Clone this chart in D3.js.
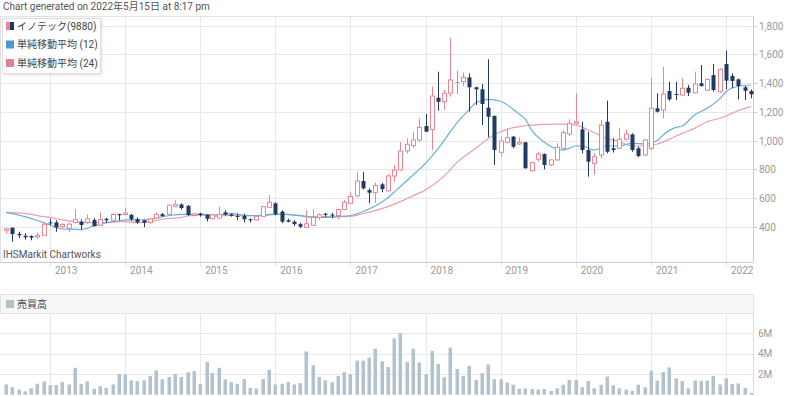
<!DOCTYPE html>
<html>
<head>
<meta charset="utf-8">
<script src="https://cdn.jsdelivr.net/npm/d3@7"></script>
<style>
  body { margin: 0; background: #fff; }
  svg { display: block; font-family: Roboto, "Noto Sans CJK JP", sans-serif; }
</style>
</head>
<body>
<div class="chart"></div>
<script>
// Step 0: data (monthly candles, June 2012 - May 2022)
//= ================================
var firstMonth = new Date(2012, 5, 1);

var open = [375, 393, 350, 337, 335, 328, 340, 430, 430, 400, 390, 430,
  435, 430, 447, 410, 455, 445, 488, 485, 482, 452, 445, 430,
  460, 487, 487, 540, 555, 545, 478, 492, 482, 455, 460, 500,
  485, 475, 475, 452, 447, 472, 535, 563, 505, 445, 435, 418,
  395, 410, 465, 490, 484, 478, 520, 563, 615, 718, 655, 637,
  695, 650, 753, 795, 928, 964, 1004, 1101, 1078, 1298, 1270, 1330,
  1408, 1410, 1440, 1371, 1357, 1229, 1171, 918, 988, 1027, 976, 988,
  790, 870, 906, 830, 865, 946, 1046, 1120, 1078, 934, 841, 900,
  1131, 946, 946, 1009, 1043, 946, 900, 946, 1225, 1213, 1345, 1324,
  1317, 1368, 1333, 1399, 1350, 1456, 1340, 1533, 1450, 1426, 1371, 1345];

var high = [390, 396, 365, 355, 340, 360, 425, 455, 445, 425, 425, 520,
  450, 485, 460, 500, 462, 495, 490, 530, 490, 465, 447, 462,
  500, 495, 555, 585, 562, 552, 495, 497, 487, 485, 540, 515,
  492, 492, 490, 457, 475, 545, 620, 570, 515, 455, 445, 428,
  515, 520, 493, 497, 497, 525, 585, 640, 783, 780, 667, 707,
  705, 767, 830, 990, 1015, 1062, 1155, 1185, 1375, 1480, 1352, 1716,
  1487, 1473, 1468, 1375, 1394, 1566, 1175, 1027, 1085, 1032, 1023, 990,
  848, 922, 910, 870, 981, 1073, 1148, 1329, 1131, 1062, 911, 1143,
  1278, 1016, 1085, 1078, 1050, 957, 1008, 1440, 1329, 1514, 1410, 1410,
  1433, 1387, 1480, 1526, 1433, 1533, 1503, 1626, 1468, 1433, 1380, 1357];

var low = [350, 296, 320, 310, 305, 313, 340, 410, 365, 390, 365, 425,
  380, 420, 400, 405, 425, 440, 445, 480, 440, 420, 397, 418,
  455, 470, 482, 535, 520, 475, 470, 470, 437, 452, 455, 478,
  470, 445, 430, 430, 443, 470, 535, 480, 425, 430, 405, 390,
  390, 405, 445, 470, 460, 450, 517, 560, 605, 660, 563, 567,
  640, 644, 713, 790, 910, 950, 990, 1060, 934, 1208, 1213, 1305,
  1324, 1380, 1201, 1248, 1108, 1023, 830, 888, 980, 946, 969, 805,
  785, 853, 800, 823, 860, 939, 1032, 1110, 911, 748, 760, 876,
  911, 916, 946, 1000, 922, 883, 892, 934, 1196, 1155, 1276, 1283,
  1312, 1310, 1329, 1375, 1345, 1340, 1333, 1357, 1364, 1287, 1283, 1294];

var close = [385, 349, 340, 326, 324, 340, 417, 425, 395, 415, 418, 450,
  412, 455, 405, 450, 445, 485, 480, 495, 452, 430, 427, 455,
  485, 475, 550, 555, 530, 482, 488, 482, 455, 482, 485, 484,
  475, 470, 452, 445, 472, 540, 570, 487, 435, 435, 418, 400,
  420, 465, 483, 482, 478, 520, 570, 610, 718, 667, 637, 686,
  662, 753, 795, 927, 974, 1004, 1092, 1062, 1310, 1270, 1330, 1422,
  1408, 1440, 1371, 1357, 1255, 1166, 934, 997, 1020, 957, 988, 807,
  848, 906, 830, 865, 953, 1055, 1120, 1131, 934, 853, 888, 1108,
  922, 934, 1009, 1046, 934, 892, 1004, 1225, 1201, 1324, 1287, 1317,
  1364, 1333, 1394, 1380, 1426, 1352, 1496, 1417, 1415, 1380, 1347, 1322];

// volume in millions of shares
var volume = [1.0, 0.73, 0.5, 0.33, 0.63, 1.07, 1.3, 0.93, 0.93, 1.23, 1.0, 2.63,
  1.07, 1.3, 0.57, 0.83, 0.67, 1.0, 2.0, 2.0, 1.4, 1.33, 1.4, 1.83,
  2.37, 1.5, 1.73, 2.03, 1.73, 2.2, 2.3, 1.07, 3.2, 2.13, 2.63, 1.5,
  1.23, 1.07, 1.53, 0.67, 0.6, 1.53, 2.43, 1.0, 1.07, 1.23, 1.0, 1.13,
  4.23, 2.87, 1.73, 1.4, 1.23, 1.83, 2.2, 2.0, 3.33, 3.33, 3.63, 4.5,
  3.27, 2.7, 5.5, 6.0, 3.2, 4.5, 3.15, 2.0, 4.26, 3.0, 1.7, 4.6,
  2.5, 1.84, 2.82, 1.44, 2.1, 2.95, 1.5, 1.5, 1.18, 0.98, 0.56, 0.62,
  0.56, 0.5, 0.56, 0.36, 0.62, 0.98, 1.44, 1.44, 0.72, 1.34, 0.62, 0.98,
  1.77, 0.92, 0.62, 0.5, 0.36, 0.98, 0.72, 2.33, 1.38, 2.23, 2.66, 1.6,
  1.34, 0.62, 1.38, 1.34, 1.38, 1.84, 1.0, 1.6, 1.05, 1.1, 0.66, 0.16];

// moving averages: [month index, value]
var sma12 = [[0, 500], [3, 470], [6, 428], [7, 412], [9, 384], [11, 382], [12, 380],
  [14, 405], [16, 428], [18, 440], [19, 447], [21, 447], [23, 452], [25, 470],
  [28, 486], [29, 486], [31, 486], [34, 481], [36, 493], [38, 481], [40, 477],
  [42, 486], [44, 488], [47, 477], [49, 465], [51, 465], [53, 470], [55, 478],
  [57, 504], [59, 544], [61, 600], [62, 640], [63, 680], [65, 760], [67, 841],
  [69, 940], [70, 1000], [72, 1120], [74, 1215], [75, 1262], [77, 1287],
  [79, 1274], [81, 1220], [82, 1185], [83, 1150], [84, 1073], [86, 990],
  [87, 960], [89, 934], [90, 946], [91, 962], [92, 962], [94, 934], [96, 962],
  [98, 962], [100, 981], [102, 975], [104, 1000], [105, 1039], [107, 1092],
  [108, 1101], [110, 1178], [112, 1225], [114, 1290], [115, 1340], [117, 1378],
  [119, 1387]];

var sma24 = [[0, 500], [3, 493], [6, 470], [7, 465], [9, 447], [11, 435], [12, 430],
  [14, 428], [16, 428], [18, 435], [19, 435], [21, 428], [23, 435], [25, 452],
  [28, 465], [29, 475], [31, 481], [34, 472], [36, 481], [38, 477], [40, 477],
  [42, 481], [44, 486], [47, 477], [49, 470], [51, 470], [53, 470], [55, 472],
  [57, 490], [59, 512], [61, 540], [63, 575], [65, 615], [67, 656], [70, 752],
  [72, 845], [75, 946], [78, 1040], [80, 1078], [83, 1103], [86, 1113],
  [88, 1115], [91, 1108], [93, 1075], [96, 1016], [98, 992], [100, 962],
  [102, 962], [104, 976], [106, 1010], [108, 1050], [110, 1085], [112, 1131],
  [114, 1155], [115, 1171], [117, 1208], [119, 1236]];

var priceTicks = [400, 600, 800, 1000, 1200, 1400, 1600, 1800];
var volumeTicks = [2, 4, 6];
var volumeTickLabels = ["2M", "4M", "6M"];
var years = [2013, 2014, 2015, 2016, 2017, 2018, 2019, 2020, 2021, 2022];

var legendNames = ["イノテック(9880)", "単純移動平均 (12)", "単純移動平均 (24)"];

// Step 1: set up the chart
//= ================================
var svgWidth = 800;
var svgHeight = 396;

var plotRight = 753;
var priceTop = 16;
var priceBottom = 262;
var volTop = 313;
var volBottom = 395;

var upColor = "#ec8592";
var downColor = "#203a63";
var smaBlue = "#6aafdc";
var smaPink = "#e9a0ad";
var gridColor = "#e8e8e8";

var svg = d3
  .select(".chart")
  .append("svg")
  .attr("width", svgWidth)
  .attr("height", svgHeight);

var months = d3.range(open.length).map(function(i) {
  return d3.timeMonth.offset(firstMonth, i);
});

var candles = months.map(function(m, i) {
  return { date: m, open: open[i], high: high[i], low: low[i], close: close[i], volume: volume[i] };
});

// scales
var x = d3.scaleTime()
  .domain([new Date(2013, 0, 1), new Date(2022, 0, 1)])
  .range([50, 726]);

var y = d3.scaleLinear().domain([400, 1800]).range([226.7, 25.7]);
var yVol = d3.scaleLinear().domain([0, 6]).range([394.7, 333.3]);

// title
svg.append("text")
  .attr("x", 3)
  .attr("y", 10)
  .attr("font-size", 10)
  .attr("fill", "#555")
  .text("Chart generated on 2022年5月15日 at 8:17 pm");

// price panel frame + grid
svg.append("rect")
  .attr("x", 0.5).attr("y", priceTop + 0.5)
  .attr("width", plotRight).attr("height", priceBottom - priceTop)
  .attr("fill", "none").attr("stroke", "#e2e2e2");

svg.append("g")
  .selectAll("line")
  .data(priceTicks)
  .enter()
  .append("line")
  .attr("x1", 0).attr("x2", plotRight)
  .attr("y1", function(d) { return Math.round(y(d)) + 0.5; })
  .attr("y2", function(d) { return Math.round(y(d)) + 0.5; })
  .attr("stroke", gridColor);

svg.append("g")
  .selectAll("line")
  .data(years)
  .enter()
  .append("line")
  .attr("x1", function(d) { return Math.round(x(new Date(d, 0, 1))) + 0.5; })
  .attr("x2", function(d) { return Math.round(x(new Date(d, 0, 1))) + 0.5; })
  .attr("y1", priceTop).attr("y2", priceBottom + 5)
  .attr("stroke", gridColor);

// right price axis
svg.append("line")
  .attr("x1", plotRight + 0.5).attr("x2", plotRight + 0.5)
  .attr("y1", priceTop).attr("y2", priceBottom)
  .attr("stroke", "#ccc");

var priceAxis = svg.append("g").selectAll("g").data(priceTicks).enter().append("g")
  .attr("transform", function(d) { return "translate(" + plotRight + "," + (Math.round(y(d)) + 0.5) + ")"; });
priceAxis.append("line").attr("x2", 4).attr("stroke", "#ccc");
priceAxis.append("text")
  .attr("x", 6).attr("dy", "0.35em")
  .attr("font-size", 10).attr("fill", "#999")
  .text(d3.format(","));

// bottom time axis
svg.append("line")
  .attr("x1", 0).attr("x2", plotRight)
  .attr("y1", priceBottom + 0.5).attr("y2", priceBottom + 0.5)
  .attr("stroke", "#ccc");

svg.append("g")
  .selectAll("text")
  .data(years)
  .enter()
  .append("text")
  .attr("x", function(d) { return x(new Date(d, 0, 1)) + 5; })
  .attr("y", 274)
  .attr("font-size", 10)
  .attr("fill", "#999")
  .text(function(d) { return d; });

// watermark
svg.append("text")
  .attr("x", 3).attr("y", 258)
  .attr("font-size", 10).attr("fill", "#555")
  .text("IHSMarkit Chartworks");

// moving averages
var smaLine = d3.line()
  .x(function(d) { return x(d3.timeMonth.offset(firstMonth, d[0])); })
  .y(function(d) { return y(d[1]); })
  .curve(d3.curveMonotoneX);

svg.append("path").datum(sma24)
  .attr("d", smaLine).attr("fill", "none")
  .attr("stroke", smaPink).attr("stroke-width", 1.2);
svg.append("path").datum(sma12)
  .attr("d", smaLine).attr("fill", "none")
  .attr("stroke", smaBlue).attr("stroke-width", 1.2);

// candles
function candleColor(d) {
  if (d.close === d.open) return "#9a9a9a";
  return d.close > d.open ? upColor : downColor;
}

var candle = svg.append("g").selectAll("g").data(candles).enter().append("g");

candle.append("line")
  .attr("x1", function(d) { return Math.round(x(d.date)) + 0.5; })
  .attr("x2", function(d) { return Math.round(x(d.date)) + 0.5; })
  .attr("y1", function(d) { return y(d.high); })
  .attr("y2", function(d) { return y(d.low); })
  .attr("stroke", candleColor);

candle.append("rect")
  .attr("x", function(d) { return Math.round(x(d.date)) - 1.5; })
  .attr("width", 4)
  .attr("y", function(d) { return y(Math.max(d.open, d.close)); })
  .attr("height", function(d) { return Math.max(1, Math.abs(y(d.open) - y(d.close))); })
  .attr("fill", function(d) { return d.close > d.open ? "#fff" : candleColor(d); })
  .attr("stroke", candleColor)
  .attr("stroke-width", function(d) { return d.close > d.open ? 1 : 0; });

// legend
var legend = svg.append("g").attr("transform", "translate(2,18)");
legend.append("rect")
  .attr("x", 0.5).attr("y", 0.5).attr("width", 98).attr("height", 55)
  .attr("fill", "#fff").attr("stroke", "#ddd")
  .style("filter", "drop-shadow(1px 1px 1px rgba(0,0,0,0.12))");

var legendItem = legend.selectAll("g.item").data(legendNames).enter().append("g")
  .attr("class", "item")
  .attr("transform", function(d, i) { return "translate(4," + (4 + i * 18.5) + ")"; });

legendItem.each(function(d, i) {
  var g = d3.select(this);
  if (i === 0) {
    g.append("rect").attr("width", 4).attr("height", 8).attr("fill", upColor);
    g.append("rect").attr("x", 4).attr("width", 4).attr("height", 8).attr("fill", downColor);
  } else {
    g.append("rect").attr("width", 8).attr("height", 8).attr("fill", i === 1 ? "#4b98cc" : "#e27f90");
  }
  g.append("text")
    .attr("x", 11).attr("y", 4).attr("dy", "0.35em")
    .attr("font-size", 10).attr("fill", "#444")
    .text(d);
});

// Step 2: volume panel
//= ================================
svg.append("rect")
  .attr("x", 0.5).attr("y", 294.5).attr("width", plotRight).attr("height", 19)
  .attr("fill", "#f7f7f7").attr("stroke", "#e2e2e2");
svg.append("rect")
  .attr("x", 6).attr("y", 300).attr("width", 8).attr("height", 8)
  .attr("fill", "#b3c2cd");
svg.append("text")
  .attr("x", 17).attr("y", 304).attr("dy", "0.35em")
  .attr("font-size", 10).attr("fill", "#444")
  .text("売買高");

svg.append("g")
  .selectAll("line")
  .data(volumeTicks)
  .enter()
  .append("line")
  .attr("x1", 0).attr("x2", plotRight)
  .attr("y1", function(d) { return Math.round(yVol(d)) + 0.5; })
  .attr("y2", function(d) { return Math.round(yVol(d)) + 0.5; })
  .attr("stroke", gridColor);

svg.append("g")
  .selectAll("line")
  .data(years)
  .enter()
  .append("line")
  .attr("x1", function(d) { return Math.round(x(new Date(d, 0, 1))) + 0.5; })
  .attr("x2", function(d) { return Math.round(x(new Date(d, 0, 1))) + 0.5; })
  .attr("y1", volTop).attr("y2", volBottom)
  .attr("stroke", gridColor);

svg.append("line")
  .attr("x1", plotRight + 0.5).attr("x2", plotRight + 0.5)
  .attr("y1", volTop).attr("y2", volBottom)
  .attr("stroke", "#ddd");

svg.append("g")
  .selectAll("text")
  .data(volumeTicks)
  .enter()
  .append("text")
  .attr("x", 758)
  .attr("y", function(d) { return yVol(d); })
  .attr("dy", "0.35em")
  .attr("font-size", 10).attr("fill", "#999")
  .text(function(d, i) { return volumeTickLabels[i]; });

svg.append("g")
  .selectAll("rect")
  .data(candles)
  .enter()
  .append("rect")
  .attr("x", function(d) { return Math.round(x(d.date)) - 1.5; })
  .attr("width", 3.5)
  .attr("y", function(d) { return yVol(d.volume); })
  .attr("height", function(d) { return yVol(0) - yVol(d.volume); })
  .attr("fill", "#b3c2cd");
</script>
</body>
</html>
